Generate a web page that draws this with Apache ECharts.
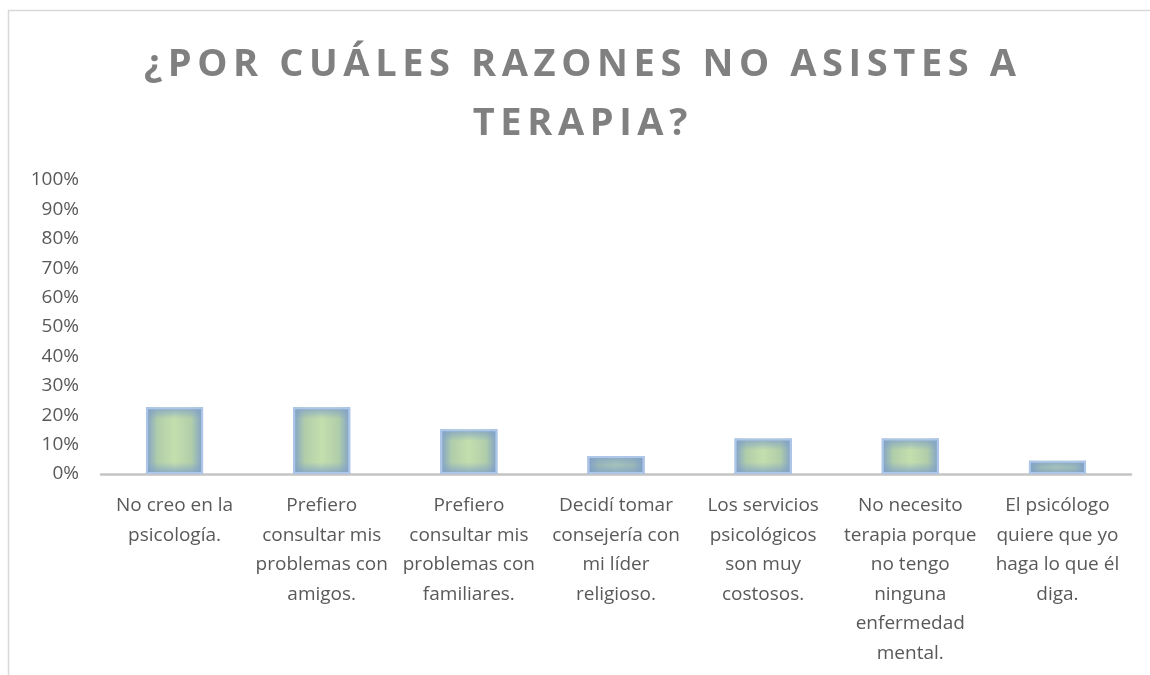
<!DOCTYPE html>
<html lang="es">

<head>
    <meta charset="UTF-8">
    <title>Razones para no asistir a terapia</title>
    <style>
        body {
            margin: 0;
            overflow: hidden;
            background: #fff;
        }

        #chart {
            width: 1150px;
            height: 675px;
        }
    </style>
</head>

<body>
    <div id="chart"></div>
    <script src="https://cdn.jsdelivr.net/npm/echarts@6/dist/echarts.min.js"></script>
    <script>
        // datos
        var titulo = '¿POR CUÁLES RAZONES NO ASISTES A\nTERAPIA?';
        var categorias = [
            'No creo en la\npsicología.',
            'Prefiero\nconsultar mis\nproblemas con\namigos.',
            'Prefiero\nconsultar mis\nproblemas con\nfamiliares.',
            'Decidí tomar\nconsejería con\nmi líder\nreligioso.',
            'Los servicios\npsicológicos\nson muy\ncostosos.',
            'No necesito\nterapia porque\nno tengo\nninguna\nenfermedad\nmental.',
            'El psicólogo\nquiere que yo\nhaga lo que él\ndiga.'
        ];
        var porcentajes = [22.7, 22.7, 15.2, 6.1, 12.1, 12.1, 4.5];
        var ticksY = [0, 10, 20, 30, 40, 50, 60, 70, 80, 90, 100];

        var myChart = echarts.init(document.getElementById('chart'));

        // espaciado entre letras del titulo (rich text, una pieza por letra)
        function espaciar(txt) {
            return txt.split('\n').map(function (linea) {
                return Array.from(linea).map(function (c) {
                    return '{s|' + c + '}';
                }).join('');
            }).join('\n');
        }

        var azul = '127,159,200';

        // relleno base: degradado horizontal verde al centro, azul a los lados
        var rellenoBase = {
            type: 'linear', x: 0, y: 0, x2: 1, y2: 0,
            colorStops: [
                { offset: 0, color: '#7f9fc8' },
                { offset: 0.2, color: '#b0cdaa' },
                { offset: 0.5, color: '#c4dfad' },
                { offset: 0.8, color: '#b0cdaa' },
                { offset: 1, color: '#7f9fc8' }
            ]
        };

        // capa superior: oscurece bordes arriba y abajo
        function capaVertical(v) {
            var f = Math.min(0.5, 4 / v);
            var centro = v < 8 ? 0.45 : 0;
            return {
                type: 'linear', x: 0, y: 0, x2: 0, y2: 1,
                colorStops: [
                    { offset: 0, color: 'rgba(' + azul + ',0.85)' },
                    { offset: f, color: 'rgba(' + azul + ',' + centro + ')' },
                    { offset: 1 - f, color: 'rgba(' + azul + ',' + centro + ')' },
                    { offset: 1, color: 'rgba(' + azul + ',0.85)' }
                ]
            };
        }

        var option = {
            animation: false,
            title: {
                text: espaciar(titulo),
                left: 575,
                textAlign: 'center',
                top: 31,
                textStyle: {
                    rich: {
                        s: {
                            fontFamily: 'Open Sans',
                            fontWeight: 'bold',
                            fontSize: 38,
                            lineHeight: 59,
                            color: '#808080',
                            padding: [0, 2.8, 0, 2.8]
                        }
                    }
                }
            },
            graphic: [{
                type: 'rect',
                shape: { x: 8.5, y: 10.5, width: 1200, height: 700 },
                style: { fill: 'none', stroke: '#d9d9d9', lineWidth: 1.5 },
                silent: true
            }],
            grid: {
                left: 101,
                right: 19,
                top: 180,
                bottom: 201
            },
            xAxis: {
                type: 'category',
                data: categorias,
                axisLine: { lineStyle: { color: '#c4c4c4', width: 2.5 } },
                axisTick: { show: false },
                axisLabel: {
                    interval: 0,
                    margin: 17,
                    fontFamily: 'Open Sans',
                    fontSize: 19,
                    lineHeight: 29.5,
                    color: '#595959'
                }
            },
            yAxis: {
                type: 'value',
                min: 0,
                max: 100,
                interval: 10,
                splitLine: { show: false },
                axisLine: { show: false },
                axisTick: { show: false },
                axisLabel: {
                    margin: 22,
                    fontFamily: 'Open Sans',
                    fontSize: 19,
                    color: '#595959',
                    formatter: function (v) {
                        return ticksY.indexOf(v) >= 0 ? v + '%' : '';
                    }
                }
            },
            series: [{
                type: 'bar',
                data: porcentajes,
                barWidth: 57,
                itemStyle: { color: rellenoBase }
            }, {
                type: 'bar',
                barGap: '-100%',
                barWidth: 57,
                silent: true,
                data: porcentajes.map(function (v) {
                    return { value: v, itemStyle: { color: capaVertical(v) } };
                }),
                itemStyle: {
                    borderColor: '#adc6ea',
                    borderWidth: 2
                }
            }]
        };

        myChart.setOption(option);
    </script>
</body>

</html>
